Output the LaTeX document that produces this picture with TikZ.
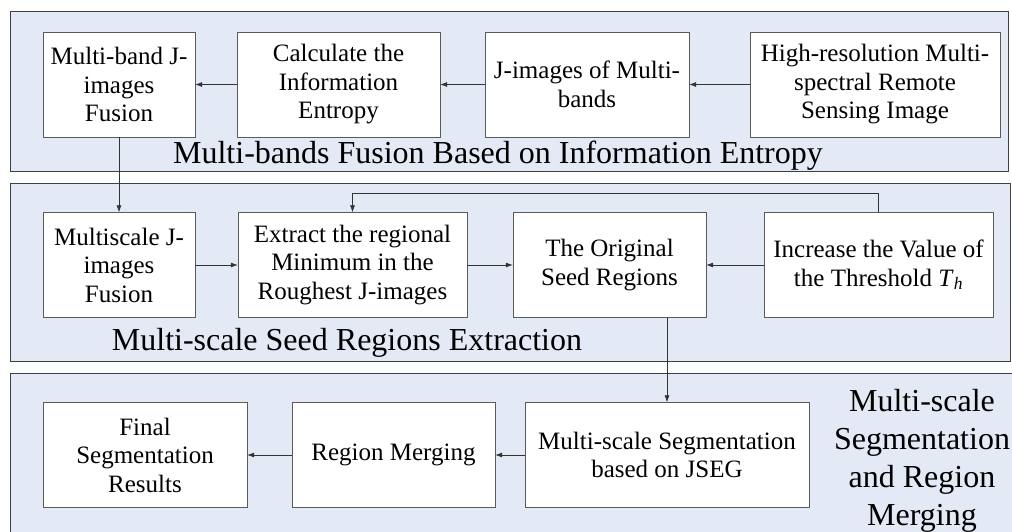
\documentclass[tikz,border=0pt]{standalone}
\usepackage{fontspec}
\setmainfont{Liberation Serif}
\usetikzlibrary{arrows.meta}
\definecolor{panelfill}{HTML}{E4EAF5}
\definecolor{paneldraw}{HTML}{404040}
\definecolor{boxdraw}{HTML}{5A5A5A}
\tikzset{
  blk/.style={draw=boxdraw, fill=white, align=center, inner sep=0pt,
    minimum height=105pt, font=\fontsize{25}{28.5}\selectfont},
  arr/.style={-{Latex[length=7pt,width=5pt]}, draw=black!80, line width=0.6pt},
  panel/.style={draw=paneldraw, fill=panelfill, line width=0.9pt},
  plabel/.style={anchor=base, inner sep=0pt, align=center, font=\fontsize{32}{38}\selectfont}
}
\begin{document}
\begin{tikzpicture}[x=1pt, y=-1pt]
    \useasboundingbox (0, 0) rectangle (1012, 531);

    % panels
    \draw[panel] (10, 11) rectangle (1008, 171);
    \draw[panel] (10, 183) rectangle (1010, 361);
    \draw[panel] (10, 373) rectangle (1030, 560);

    % 1. multi-bands fusion
    \node[blk, minimum width=152pt] (fusion) at (119, 84.5) {Multi-band J-\\images\\Fusion};
    \node[blk, minimum width=203pt] (entropy) at (338.5, 84.5) {Calculate the\\Information\\Entropy};
    \node[blk, minimum width=204pt] (jimg) at (587, 84.5) {J-images of Multi-\\bands};
    \node[blk, minimum width=250pt] (input) at (875, 84.5) {High-resolution Multi-\\spectral Remote\\Sensing Image};
    \node[plabel] (lab1) at (498, 163) {Multi-bands Fusion Based on Information Entropy};

    \draw[arr] (input) -- (jimg);
    \draw[arr] (jimg) -- (entropy);
    \draw[arr] (entropy) -- (fusion);

    % 2. seed regions
    \node[blk, minimum width=152pt] (msfusion) at (119, 265) {Multiscale J-\\images\\Fusion};
    \node[blk, minimum width=229pt] (extract) at (352.5, 265) {Extract the regional\\Minimum in the\\Roughest J-images};
    \node[blk, minimum width=193pt] (seed) at (609.5, 265) {The Original\\Seed Regions};
    \node[blk, minimum width=229pt] (thresh) at (878.5, 265) {Increase the Value of\\the Threshold \textit{T}\textsubscript{\textit{h}}};
    \node[plabel] (lab2) at (347, 350) {Multi-scale Seed Regions Extraction};

    \draw[arr] (fusion) -- (msfusion);
    \draw[arr] (msfusion) -- (extract);
    \draw[arr] (extract) -- (seed);
    \draw[arr] (thresh) -- (seed);
    \draw[arr] (thresh.north) -- ++(0, -19) -| (extract.north);

    % 3. segmentation and merging
    \node[blk, minimum width=204pt] (final) at (145, 455) {Final\\Segmentation\\Results};
    \node[blk, minimum width=203pt] (merge) at (393.5, 455) {Region Merging};
    \node[blk, minimum width=284pt] (jseg) at (667, 455) {Multi-scale Segmentation\\based on JSEG};
    \node[plabel, anchor=north] (lab3) at (922, 389) {Multi-scale\\Segmentation\\and Region\\Merging};

    \draw[arr] (jseg.north |- seed.south) -- (jseg.north);
    \draw[arr] (jseg) -- (merge);
    \draw[arr] (merge) -- (final);
\end{tikzpicture}
\end{document}
